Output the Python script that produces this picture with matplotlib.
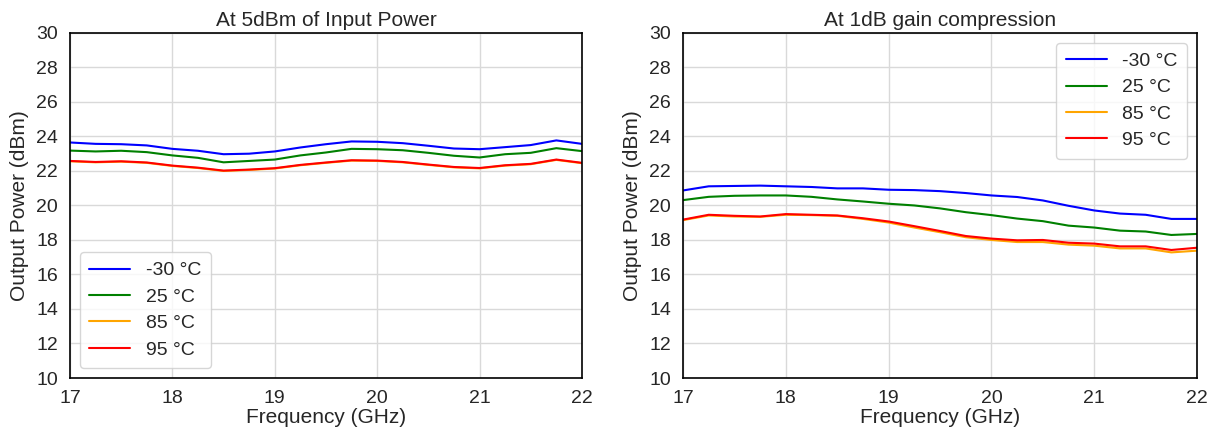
import numpy as np
import matplotlib
matplotlib.use("Agg")
import matplotlib.pyplot as plt
import seaborn as sns

freq = [17.0, 17.25, 17.5, 17.75, 18.0, 18.25, 18.5, 18.75, 19.0, 19.25, 19.5,
        19.75, 20.0, 20.25, 20.5, 20.75, 21.0, 21.25, 21.5, 21.75, 22.0]
labels = ["-30 °C", "25 °C", "85 °C", "95 °C"]
colors = ["blue", "green", "orange", "red"]

# At 5 dBm input power
p5_m30 = [23.65, 23.57, 23.55, 23.48, 23.28, 23.17, 22.97, 23.00, 23.13, 23.36, 23.55,
          23.71, 23.69, 23.61, 23.46, 23.30, 23.26, 23.38, 23.50, 23.77, 23.57]
p5_25 = [23.18, 23.13, 23.17, 23.09, 22.90, 22.76, 22.50, 22.58, 22.66, 22.90, 23.07,
         23.28, 23.26, 23.20, 23.05, 22.88, 22.78, 22.97, 23.05, 23.32, 23.15]
p5_85 = [22.56, 22.50, 22.54, 22.47, 22.29, 22.17, 22.00, 22.06, 22.14, 22.33, 22.47,
         22.60, 22.58, 22.50, 22.35, 22.21, 22.15, 22.31, 22.39, 22.64, 22.45]
p5_95 = [22.58, 22.52, 22.56, 22.49, 22.31, 22.19, 22.02, 22.08, 22.16, 22.35, 22.49,
         22.62, 22.60, 22.52, 22.37, 22.23, 22.17, 22.33, 22.41, 22.66, 22.47]

# At 1 dB gain compression
p1_m30 = [20.87, 21.11, 21.13, 21.15, 21.11, 21.07, 20.99, 20.99, 20.91, 20.89, 20.83,
          20.72, 20.58, 20.49, 20.29, 19.98, 19.71, 19.53, 19.46, 19.22, 19.22]
p1_25 = [20.31, 20.50, 20.56, 20.58, 20.58, 20.50, 20.35, 20.23, 20.10, 20.00, 19.83,
         19.61, 19.44, 19.24, 19.09, 18.83, 18.72, 18.54, 18.49, 18.29, 18.35]
p1_85 = [19.15, 19.42, 19.36, 19.34, 19.46, 19.44, 19.40, 19.22, 19.01, 18.72, 18.45,
         18.16, 18.00, 17.88, 17.88, 17.73, 17.67, 17.51, 17.51, 17.28, 17.38]
p1_95 = [19.18, 19.46, 19.40, 19.36, 19.50, 19.46, 19.42, 19.26, 19.07, 18.80, 18.52,
         18.23, 18.08, 17.98, 18.00, 17.84, 17.79, 17.63, 17.63, 17.42, 17.55]

sns.set_style("whitegrid")
plt.rcParams['font.family'] = ['Liberation Sans', 'DejaVu Sans']

fig = plt.figure(figsize=(12.21, 4.33), dpi=100)
ax1 = fig.add_axes([0.0573, 0.127, 0.4193, 0.797])
ax2 = fig.add_axes([0.5594, 0.127, 0.4210, 0.797])

panels = [
    (ax1, [p5_m30, p5_25, p5_85, p5_95], "At 5dBm of Input Power", "lower left"),
    (ax2, [p1_m30, p1_25, p1_85, p1_95], "At 1dB gain compression", "upper right"),
]
for ax, series, title, loc in panels:
    for s, lab, c in zip(series, labels, colors):
        ax.plot(freq, s, color=c, lw=1.5, label=lab)
    ax.set_xlim(17, 22)
    ax.set_ylim(10, 30)
    ax.set_xticks([17, 18, 19, 20, 21, 22])
    ax.set_yticks(np.arange(10, 31, 2))
    ax.tick_params(labelsize=14, pad=5)
    ax.set_xlabel("Frequency (GHz)", fontsize=15, labelpad=1)
    ax.set_ylabel("Output Power (dBm)", fontsize=15, labelpad=5)
    ax.set_title(title, fontsize=15, pad=5)
    ax.grid(True, color="#d9d9d9", lw=1.0)
    for sp in ax.spines.values():
        sp.set_color("black")
        sp.set_linewidth(1.2)
    ax.legend(loc=loc, fontsize=14, handlelength=2.1, borderpad=0.5,
              labelspacing=0.45, handletextpad=0.8)

fig.savefig("out.png", dpi=100)
